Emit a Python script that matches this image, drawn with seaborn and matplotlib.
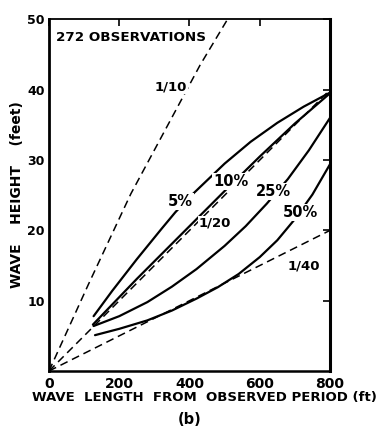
import pandas as pd
import matplotlib
matplotlib.use("Agg")
import matplotlib.pyplot as plt
import seaborn as sns

# steepness reference lines (dashed)
len_110 = [0, 112, 233, 360, 430, 508]
hgt_110 = [0, 12.3, 25.2, 37.0, 43.5, 50]
len_120 = [0, 800]
hgt_120 = [0, 40]
len_140 = [0, 800]
hgt_140 = [0, 20]

# percentage curves (solid)
len_5 = [127, 180, 250, 320, 360, 412, 500, 574, 650, 725, 800]
hgt_5 = [7.8, 11.4, 15.9, 20.2, 22.6, 25.3, 29.5, 32.6, 35.3, 37.6, 39.6]
len_10 = [125, 250, 400, 500, 600, 700, 800]
hgt_10 = [6.6, 13.1, 20.6, 25.6, 30.5, 35.2, 39.5]
len_25 = [127, 200, 280, 350, 420, 500, 560, 620, 680, 740, 800]
hgt_25 = [6.4, 7.8, 9.8, 12.0, 14.5, 17.8, 20.6, 23.8, 27.3, 31.4, 36.0]
len_50 = [131, 200, 280, 350, 420, 480, 540, 600, 650, 700, 750, 800]
hgt_50 = [5.1, 6.0, 7.2, 8.6, 10.3, 11.9, 13.8, 16.2, 18.6, 21.6, 25.1, 29.4]

x_ticks = [0, 200, 400, 600, 800]
y_ticks = [10, 20, 30, 40, 50]

sns.set_style("white")
plt.rcParams['font.family'] = ['DejaVu Sans']
plt.rcParams['font.weight'] = 'bold'
plt.rcParams['text.color'] = 'black'
plt.rcParams['axes.labelcolor'] = 'black'
plt.rcParams['xtick.color'] = 'black'
plt.rcParams['ytick.color'] = 'black'

fig = plt.figure(figsize=(3.76, 4.42), dpi=100)
ax = fig.add_axes([0.1303, 0.1606, 0.7473, 0.7953])

dash = (5.2, 3.2)
for lx, ly in [(len_110, hgt_110), (len_120, hgt_120), (len_140, hgt_140)]:
    sns.lineplot(x=lx, y=ly, ax=ax, color='black', linewidth=1.1,
                 sort=False, estimator=None)
    ax.lines[-1].set_dashes(dash)

for lx, ly in [(len_5, hgt_5), (len_10, hgt_10), (len_25, hgt_25), (len_50, hgt_50)]:
    sns.lineplot(x=lx, y=ly, ax=ax, color='black', linewidth=1.6,
                 sort=False, estimator=None)

labels = [("1/10", 348, 40.4, 9.5), ("5%", 374, 24.1, 10.5), ("10%", 517, 27.0, 10.5),
          ("1/20", 472, 21.0, 9.5), ("25%", 640, 25.5, 10.5), ("50%", 717, 22.5, 10.5),
          ("1/40", 725, 14.9, 9.5)]
for txt, lx, ly, fs in labels:
    ax.text(lx, ly, txt, ha='center', va='center', fontsize=fs, fontweight='bold',
            color='black', bbox=dict(fc='white', ec='none', pad=0.6))

ax.text(20, 47.4, "272 OBSERVATIONS", ha='left', va='center', fontsize=9.7,
        fontweight='bold', color='black')

ax.set_xlim(0, 800)
ax.set_ylim(0, 50)
ax.set_xticks(x_ticks)
ax.set_yticks(y_ticks)
ax.set_xticklabels([str(v) for v in x_ticks], fontsize=10, fontweight='bold')
ax.set_yticklabels([str(v) for v in y_ticks], fontsize=9, fontweight='bold')
ax.tick_params(axis='both', direction='in', length=5, width=1.2, color='black',
               top=True, right=True, labelcolor='black')
ax.tick_params(axis='x', pad=4)
ax.tick_params(axis='y', pad=3)
ax.set_xlabel("")
ax.set_ylabel("")

for side, lw in [('left', 2.0), ('right', 2.2), ('top', 1.3), ('bottom', 1.8)]:
    ax.spines[side].set_visible(True)
    ax.spines[side].set_color('black')
    ax.spines[side].set_linewidth(lw)

fig.text(204 / 376, 1 - 398 / 442, "WAVE  LENGTH  FROM  OBSERVED PERIOD (ft)",
         ha='center', va='center', fontsize=9.5, fontweight='bold')
fig.text(17 / 376, 1 - 195 / 442, "WAVE    HEIGHT    (feet)", rotation=90,
         ha='center', va='center', fontsize=10, fontweight='bold')
fig.text(190 / 376, 1 - 419 / 442, "(b)", ha='center', va='center',
         fontsize=10.5, fontweight='bold')

fig.savefig("out.png", dpi=100, facecolor='white')
